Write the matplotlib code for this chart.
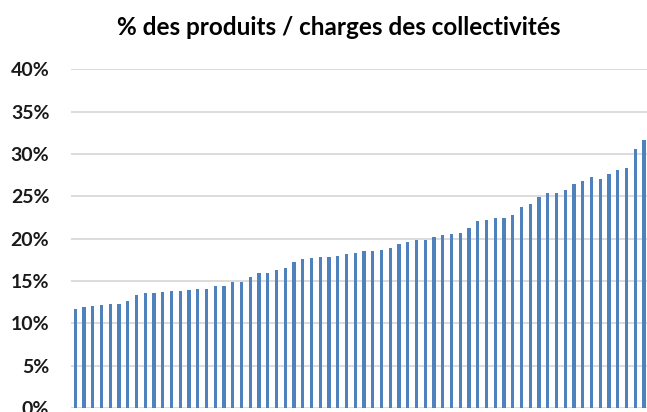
import matplotlib
matplotlib.use("Agg")
import matplotlib.pyplot as plt
from matplotlib.ticker import FuncFormatter

title = "% des produits / charges des collectivités"
values = [11.7, 11.9, 12.05, 12.2, 12.25, 12.25, 12.6, 13.3, 13.6, 13.6, 13.75, 13.85,
          13.85, 13.95, 14.05, 14.1, 14.4, 14.4, 14.85, 14.85, 15.45, 15.9, 16.0, 16.35,
          16.55, 17.25, 17.6, 17.7, 17.8, 17.85, 17.95, 18.2, 18.25, 18.55, 18.55, 18.7,
          18.9, 19.35, 19.55, 19.8, 19.85, 20.2, 20.45, 20.6, 20.65, 21.25, 22.1, 22.2,
          22.4, 22.45, 22.75, 23.7, 24.05, 24.9, 25.35, 25.4, 25.75, 26.5, 26.8, 27.25,
          27.0, 27.6, 28.1, 28.3, 30.55, 31.65]
yticks = [0, 5, 10, 15, 20, 25, 30, 35, 40]

W, H = 647, 412
fig = plt.figure(figsize=(W / 100, H / 100), dpi=100)
ax = fig.add_axes([70.9 / W, (H - 408) / H, (648.4 - 70.9) / W, (408 - 69.3) / H])

n = len(values)
x = list(range(n))
ax.bar(x, values, width=0.36, color="#4F81BD", zorder=3)
ax.set_xlim(-0.5, n - 0.5)
ax.set_ylim(0, 40)
ax.set_yticks(yticks)
ax.yaxis.set_major_formatter(FuncFormatter(lambda v, p: f"{int(v)}%"))
ax.set_xticks([])
ax.grid(axis="y", color="#d9d9d9", linewidth=1.3, zorder=0)
for s in ax.spines.values():
    s.set_visible(False)
ax.tick_params(axis="y", length=0, pad=15.5)
for lab in ax.get_yticklabels():
    lab.set_fontfamily("Lato")
    lab.set_fontweight("bold")
    lab.set_fontsize(14)
    lab.set_color("#1a1a1a")

fig.text(339 / W, 1 - 35 / H, title, ha="center", va="baseline",
         fontfamily="Lato", fontweight="bold", fontsize=17.5, color="#000000")

fig.savefig("out.png", dpi=100)
